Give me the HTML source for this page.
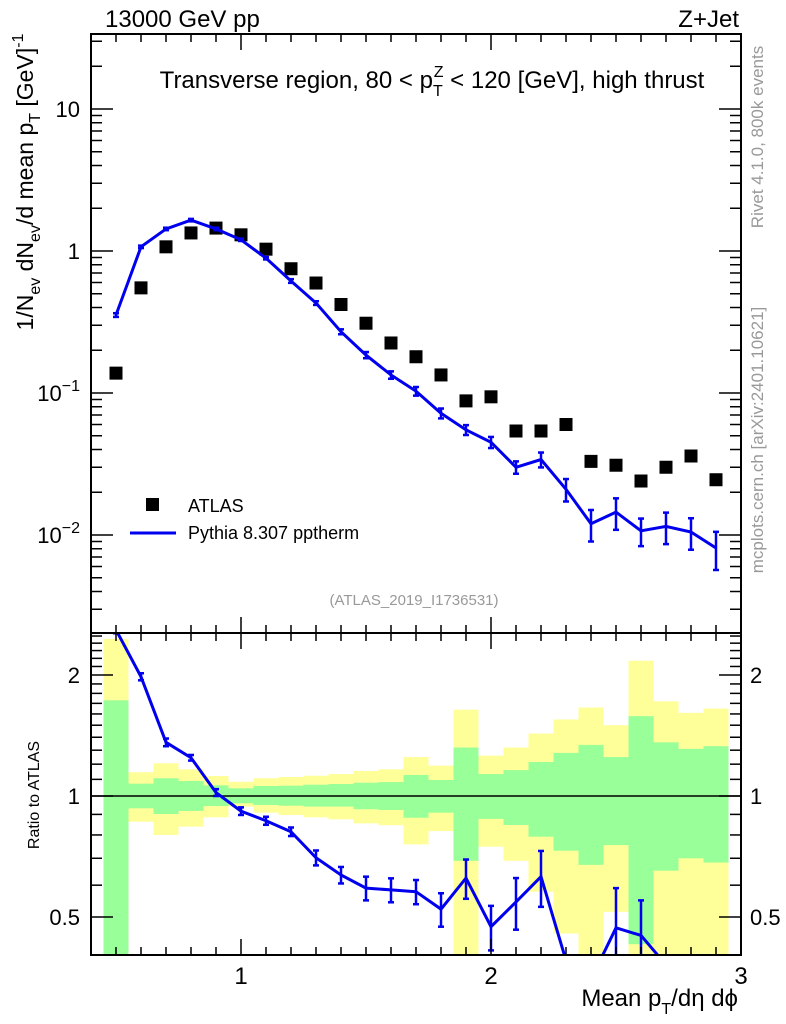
<!DOCTYPE html>
<html><head><meta charset="utf-8">
<style>
html,body{margin:0;padding:0;background:#fff;overflow:hidden;width:786px;height:1024px;}
svg{display:block;font-family:"Liberation Sans",sans-serif;}
</style></head>
<body>
<svg id="chart" width="786" height="1024" viewBox="0 0 786 1024" xmlns="http://www.w3.org/2000/svg">
  <g id="bands"></g>
  <g id="marks"></g>
  <g id="axes"></g>
  <text x="105" y="27" font-size="24">13000 GeV pp</text>
  <text x="739" y="27" font-size="24" text-anchor="end">Z+Jet</text>
  <text x="432" y="88" font-size="24" text-anchor="middle">Transverse region, 80 &lt; p<tspan font-size="16" dy="8">T</tspan><tspan font-size="16" dx="-9" dy="-19">Z</tspan><tspan dy="11"> &lt; 120 [GeV], high thrust</tspan></text>
  <text x="414" y="605" font-size="15" fill="#999" text-anchor="middle">(ATLAS_2019_I1736531)</text>
  <rect x="146" y="498" width="13" height="13" fill="#000"/>
  <text x="188" y="512" font-size="18">ATLAS</text>
  <line x1="130" y1="533" x2="176" y2="533" stroke="#0000ee" stroke-width="3"/>
  <text x="188" y="539" font-size="18">Pythia 8.307 pptherm</text>
  <text transform="translate(33,182) rotate(-90)" font-size="23" text-anchor="middle">1/N<tspan font-size="16" dy="7">ev</tspan><tspan dy="-7"> dN</tspan><tspan font-size="16" dy="7">ev</tspan><tspan dy="-7">/d mean p</tspan><tspan font-size="16" dy="7">T</tspan><tspan dy="-7"> [GeV]</tspan><tspan font-size="16" dy="-10">-1</tspan></text>
  <text transform="translate(39,795) rotate(-90)" font-size="16" text-anchor="middle">Ratio to ATLAS</text>
  <text x="738" y="1006" font-size="24" text-anchor="end">Mean p<tspan font-size="16" dy="8">T</tspan><tspan dy="-8">/dη dϕ</tspan></text>
  <text transform="translate(763,137) rotate(-90)" font-size="17" fill="#999" text-anchor="middle">Rivet 4.1.0,  800k events</text>
  <text transform="translate(763,440) rotate(-90)" font-size="17" fill="#999" text-anchor="middle">mcplots.cern.ch [arXiv:2401.10621]</text>
</svg>
<script>
const xs = [0.5,0.6,0.7,0.8,0.9,1.0,1.1,1.2,1.3,1.4,1.5,1.6,1.7,1.8,1.9,2.0,2.1,2.2,2.3,2.4,2.5,2.6,2.7,2.8,2.9];
const atlasVals = [0.138,0.55,1.07,1.34,1.45,1.30,1.03,0.75,0.595,0.42,0.31,0.225,0.18,0.134,0.088,0.094,0.054,0.054,0.06,0.033,0.031,0.024,0.030,0.036,0.0245];
const pythiaVals = [0.354,1.07,1.43,1.65,1.43,1.2,0.89,0.615,0.43,0.27,0.185,0.134,0.103,0.072,0.055,0.045,0.030,0.034,0.021,0.012,0.0145,0.0107,0.0115,0.0105,0.0081];
const pythiaRelErr = [0.03,0.02,0.02,0.02,0.02,0.02,0.02,0.03,0.03,0.04,0.05,0.06,0.07,0.08,0.08,0.09,0.1,0.12,0.18,0.25,0.25,0.22,0.25,0.25,0.3];
const ratioVals = [2.59,1.98,1.36,1.245,1.02,0.917,0.868,0.815,0.702,0.636,0.59,0.584,0.578,0.523,0.625,0.473,0.545,0.63,0.39,0.35,0.47,0.45,0.38,0.29,0.33];
const ratioErr = [0.05,0.04,0.03,0.02,0.02,0.02,0.02,0.02,0.03,0.03,0.04,0.04,0.04,0.05,0.07,0.06,0.08,0.1,0.1,0.1,0.12,0.1,0.1,0.1,0.1];
const yellowUp = [2.46,1.146,1.206,1.165,1.121,1.085,1.107,1.115,1.123,1.134,1.154,1.165,1.25,1.19,1.64,1.26,1.32,1.43,1.55,1.66,1.50,2.17,1.72,1.61,1.65];
const greenUp = [1.73,1.073,1.107,1.09,1.063,1.045,1.059,1.061,1.067,1.071,1.079,1.083,1.128,1.096,1.32,1.134,1.16,1.215,1.28,1.34,1.25,1.58,1.36,1.31,1.33];
const greenLow = [0.3,0.932,0.902,0.918,0.944,0.959,0.950,0.946,0.941,0.941,0.927,0.923,0.883,0.909,0.69,0.877,0.847,0.792,0.731,0.674,0.755,0.428,0.652,0.70,0.683];
const yellowLow = [0.3,0.863,0.80,0.839,0.885,0.941,0.909,0.897,0.885,0.875,0.855,0.846,0.758,0.818,0.3,0.748,0.69,0.578,0.455,0.3,0.515,0.3,0.3,0.3,0.3];
const xTicks = [1,2,3];
const mainTicks = [0.01,0.1,1,10];
const mainTickBase = ["10","10","1","10"];
const mainTickExp = ["\u22122","\u22121","",""];
const ratioTicks = [0.5,1,2];
const ratioTickLabels = ["0.5","1","2"];

const NS = "http://www.w3.org/2000/svg";
const L=91,R=741,T=34,MB=633,RB=955;
const X0=0.4,X1=3.0;
const RMIN=0.40;
const xp = v => L + (v-X0)/(X1-X0)*(R-L);
const my = v => 251 - Math.log10(v)*142;
const ry = v => 796 - Math.log10(v)*402;
const clampR = y => Math.max(MB, Math.min(RB, y));
function mk(tag, attrs, parent){const e=document.createElementNS(NS,tag);for(const k in attrs)e.setAttribute(k,attrs[k]);parent.appendChild(e);return e;}
const bands=document.getElementById('bands'), marks=document.getElementById('marks'), axes=document.getElementById('axes');
const hw=(xp(0.1)-xp(0))/2;

xs.forEach((x,i)=>{
  const x0=xp(x)-hw, w=2*hw;
  const y1=clampR(ry(yellowUp[i])), y2=clampR(ry(yellowLow[i]));
  const a=mk('rect',{x:x0,y:y1,width:w,height:y2-y1,fill:'#ffff99'},bands);
  
  
  const g1=clampR(ry(greenUp[i])), g2=clampR(ry(greenLow[i]));
  const b=mk('rect',{x:x0,y:g1,width:w,height:g2-g1,fill:'#99ff99'},bands);
  
  
});
const ref=mk('line',{x1:L,x2:R,y1:ry(1),y2:ry(1),stroke:'#000','stroke-width':1.5},bands);



const clipM=mk('clipPath',{id:'cm'},marks); mk('rect',{x:L,y:T,width:R-L,height:MB-T},clipM);
const clipR=mk('clipPath',{id:'cr'},marks); mk('rect',{x:L,y:MB,width:R-L,height:RB-MB},clipR);
xs.forEach((x,i)=>{
  const s=mk('rect',{x:xp(x)-6.5,y:my(atlasVals[i])-6.5,width:13,height:13,fill:'#000'},marks);
  
  
});
const gm=mk('g',{'clip-path':'url(#cm)'},marks);
const pl=mk('polyline',{points:xs.map((x,i)=>xp(x)+','+my(pythiaVals[i])).join(' '),fill:'none',stroke:'#0000ee','stroke-width':3},gm);


xs.forEach((x,i)=>{
  const v=pythiaVals[i],e=pythiaRelErr[i],cx=xp(x);
  const ya=my(v*(1+e)), yb=my(v*(1-e));
  const g=mk('g',{stroke:'#0000ee','stroke-width':2.5},gm);
  
  
  mk('line',{x1:cx,x2:cx,y1:ya,y2:yb},g);
  mk('line',{x1:cx-3,x2:cx+3,y1:ya,y2:ya},g);
  mk('line',{x1:cx-3,x2:cx+3,y1:yb,y2:yb},g);
});
const gr=mk('g',{'clip-path':'url(#cr)'},marks);
const rl=mk('polyline',{points:xs.map((x,i)=>xp(x)+','+ry(ratioVals[i])).join(' '),fill:'none',stroke:'#0000ee','stroke-width':3},gr);


xs.forEach((x,i)=>{
  const v=ratioVals[i],e=ratioErr[i],cx=xp(x);
  if(v<RMIN) return;
  const ya=ry(v+e), yb=ry(v-e);
  const g=mk('g',{stroke:'#0000ee','stroke-width':2.5},gr);
  
  
  mk('line',{x1:cx,x2:cx,y1:ya,y2:yb},g);
  mk('line',{x1:cx-3,x2:cx+3,y1:ya,y2:ya},g);
  mk('line',{x1:cx-3,x2:cx+3,y1:yb,y2:yb},g);
});

[[T,MB],[MB,RB]].forEach(([a,b])=>{
  const f=mk('rect',{x:L,y:a,width:R-L,height:b-a,fill:'none',stroke:'#000','stroke-width':2},axes);
  
  
});
for(let k=4;k<=30;k++){
  const v=k/10, x=xp(v), major=(k%10===0), len=major?16:8;
  [[T,1],[MB,-1],[MB,1],[RB,-1]].forEach(([y,d])=>mk('line',{x1:x,x2:x,y1:y,y2:y+d*len,stroke:'#000','stroke-width':1.5},axes));
}
xTicks.forEach(v=>{
  const t=mk('text',{x:xp(v),y:984,'font-size':24,'text-anchor':'middle'},axes);
  t.textContent=String(v);
  
  
});
for(let d=-3;d<=1;d++){
  for(let m=1;m<=9;m++){
    const v=m*Math.pow(10,d), y=my(v);
    if(y<T||y>MB)continue;
    const len=m===1?22:11;
    mk('line',{x1:L,x2:L+len,y1:y,y2:y,stroke:'#000','stroke-width':1.5},axes);
    mk('line',{x1:R,x2:R-len,y1:y,y2:y,stroke:'#000','stroke-width':1.5},axes);
  }
}
mainTicks.forEach((v,i)=>{
  const t=mk('text',{x:80,y:my(v)+8,'font-size':22,'text-anchor':'end'},axes);
  
  
  t.textContent=mainTickBase[i];
  if(mainTickExp[i]){
    const s=mk('tspan',{'font-size':16,dy:-10},t);
    s.textContent=mainTickExp[i];
  }
});
for(let v=0.4;v<=2.5001;v+=0.1){
  const y=ry(v); if(y<MB||y>RB)continue;
  const major=ratioTicks.some(t=>Math.abs(t-v)<1e-6);
  const len=major?22:11;
  mk('line',{x1:L,x2:L+len,y1:y,y2:y,stroke:'#000','stroke-width':1.5},axes);
  mk('line',{x1:R,x2:R-len,y1:y,y2:y,stroke:'#000','stroke-width':1.5},axes);
}
ratioTicks.forEach((v,i)=>{
  const t=mk('text',{x:80,y:ry(v)+8,'font-size':22,'text-anchor':'end'},axes);
  t.textContent=ratioTickLabels[i];
  
  
  const t2=mk('text',{x:750,y:ry(v)+8,'font-size':22},axes);
  t2.textContent=ratioTickLabels[i];
  
  
});
</script>
</body></html>
